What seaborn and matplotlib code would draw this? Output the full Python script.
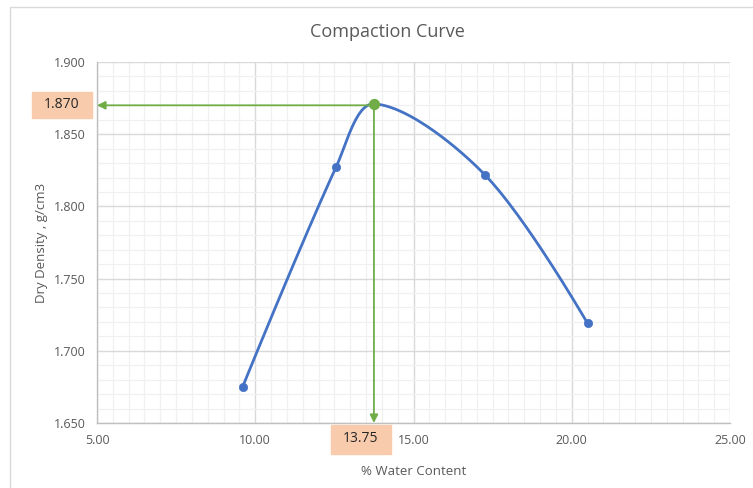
import numpy as np
import pandas as pd
import matplotlib
matplotlib.use('Agg')
import matplotlib.pyplot as plt
from matplotlib.patches import Rectangle
from matplotlib.ticker import MultipleLocator, FormatStrFormatter
import seaborn as sns

# data
water_content = [9.6, 12.55, 13.75, 17.25, 20.5]
dry_density = [1.675, 1.827, 1.871, 1.822, 1.719]
omc = 13.75
mdd = 1.870
omc_label = '13.75'
mdd_label = '1.870'

df = pd.DataFrame({'w': water_content, 'rho': dry_density})


# Excel-style smoothed line: bezier segments, control lengths weighted by
# the neighbouring segment lengths measured on screen
def smooth(ax, xs, ys, n=50):
    pts = ax.transData.transform(np.column_stack([xs, ys]))
    out = []
    for i in range(len(pts) - 1):
        p0 = pts[max(i - 1, 0)]
        p1 = pts[i]
        p2 = pts[i + 1]
        p3 = pts[min(i + 2, len(pts) - 1)]
        d01 = np.hypot(*(p1 - p0))
        d12 = np.hypot(*(p2 - p1))
        d23 = np.hypot(*(p3 - p2))
        f1 = d12 / (d01 + d12) / 3 if d01 > 0 else 1 / 3
        f2 = d12 / (d12 + d23) / 3 if d23 > 0 else 1 / 3
        c1 = p1 + (p2 - p0) * f1 if d01 > 0 else p1
        c2 = p2 - (p3 - p1) * f2 if d23 > 0 else p2
        t = np.linspace(0, 1, n)[:, None]
        seg = ((1 - t) ** 3) * p1 + 3 * ((1 - t) ** 2) * t * c1 + 3 * (1 - t) * t ** 2 * c2 + t ** 3 * p2
        out.append(seg)
    out = ax.transData.inverted().transform(np.vstack(out))
    return pd.DataFrame({'w': out[:, 0], 'rho': out[:, 1]})


sns.set_style('whitegrid')
plt.rcParams['font.family'] = ['Open Sans', 'DejaVu Sans']

fig = plt.figure(figsize=(7.53, 4.88), dpi=100)
ax = fig.add_axes([97 / 753, 1 - 423 / 488, 633 / 753, 361 / 488])
ax.set_xlim(5, 25)
ax.set_ylim(1.65, 1.90)

blue = '#4472C4'
green = '#70AD47'
grey = '#595959'

curve = smooth(ax, water_content, dry_density)
sns.lineplot(data=curve, x='w', y='rho', sort=False, estimator=None,
             color=blue, linewidth=2, ax=ax, zorder=3)
sns.scatterplot(data=df, x='w', y='rho', color=blue, s=36, edgecolor=blue,
                ax=ax, zorder=4)

# optimum point and guide arrows
ax.annotate('', xy=(5.0, mdd), xytext=(omc, mdd),
            arrowprops=dict(arrowstyle='-|>', color=green, lw=1.3,
                            mutation_scale=12, shrinkA=0, shrinkB=0), zorder=5)
ax.annotate('', xy=(omc, 1.650), xytext=(omc, mdd),
            arrowprops=dict(arrowstyle='-|>', color=green, lw=1.3,
                            mutation_scale=12, shrinkA=0, shrinkB=0), zorder=5)
ax.scatter([omc], [1.871], color=green, s=50, zorder=6)

ax.set_xlim(5, 25)
ax.set_ylim(1.65, 1.90)
ax.xaxis.set_major_locator(MultipleLocator(5))
ax.xaxis.set_minor_locator(MultipleLocator(0.5))
ax.yaxis.set_major_locator(MultipleLocator(0.05))
ax.yaxis.set_minor_locator(MultipleLocator(0.01))
ax.xaxis.set_major_formatter(FormatStrFormatter('%.2f'))
ax.yaxis.set_major_formatter(FormatStrFormatter('%.3f'))
ax.grid(which='major', color='#D9D9D9', linewidth=1)
ax.grid(which='minor', color='#F0F0F0', linewidth=0.9)
ax.set_axisbelow(True)
ax.tick_params(axis='both', which='both', length=0, labelsize=9, colors=grey, pad=8)

for s in ['top', 'right']:
    ax.spines[s].set_visible(False)
for s in ['left', 'bottom']:
    ax.spines[s].set_color('#BFBFBF')
    ax.spines[s].set_linewidth(1)

ax.set_xlabel('% Water Content', fontsize=9.5, color=grey)
ax.set_ylabel('Dry Density , g/cm3', fontsize=9.5, color=grey)
ax.yaxis.set_label_coords(-0.078, 0.5)
ax.xaxis.set_label_coords(0.5, -0.116)
fig.text(387 / 753, 1 - 32 / 488, 'Compaction Curve', ha='center', va='center',
         fontsize=13, color=grey)

# chart frame
fig.patches.append(Rectangle((10 / 753, -0.01), 1.0, 1 - 7 / 488 + 0.01,
                             transform=fig.transFigure, fill=False,
                             edgecolor='#D9D9D9', linewidth=1))

# value label boxes
peach = '#F8CBAD'
fig.patches.append(Rectangle((32 / 753, 1 - 118 / 488), 60 / 753, 26 / 488,
                             transform=fig.transFigure, color=peach, zorder=5))
fig.text(62 / 753, 1 - 105 / 488, mdd_label, ha='center', va='center',
         fontsize=10, color='#262626', zorder=6)
fig.patches.append(Rectangle((331 / 753, 1 - 454 / 488), 60 / 753, 29 / 488,
                             transform=fig.transFigure, color=peach, zorder=5))
fig.text(361 / 753, 1 - 439 / 488, omc_label, ha='center', va='center',
         fontsize=10, color='#262626', zorder=6)

fig.savefig('out.png', dpi=100)
